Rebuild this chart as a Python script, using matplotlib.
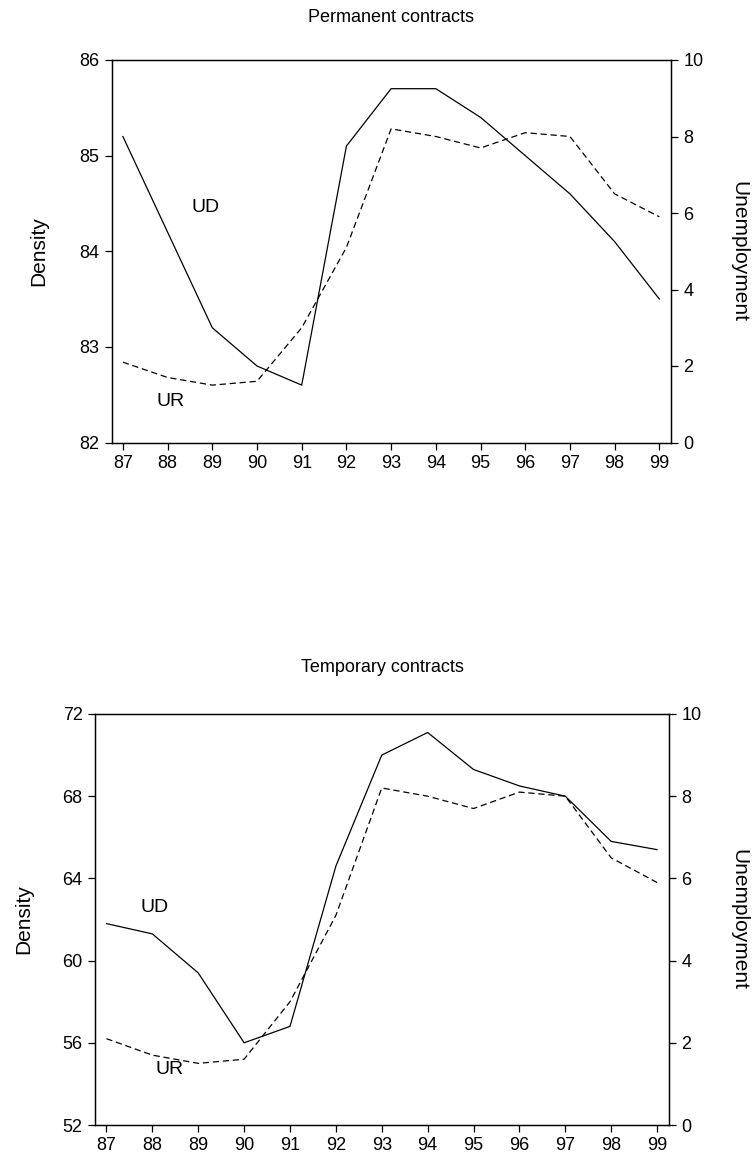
import matplotlib
matplotlib.use("Agg")
import matplotlib.pyplot as plt

plt.rcParams['font.family'] = ['Liberation Sans', 'DejaVu Sans']

years = [87, 88, 89, 90, 91, 92, 93, 94, 95, 96, 97, 98, 99]
year_labels = [str(y) for y in years]

ud_permanent = [85.2, 84.2, 83.2, 82.8, 82.6, 85.1, 85.7, 85.7, 85.4, 85.0, 84.6, 84.1, 83.5]
ud_temporary = [61.8, 61.3, 59.4, 56.0, 56.8, 64.6, 70.0, 71.1, 69.3, 68.5, 68.0, 65.8, 65.4]
unemployment = [2.1, 1.7, 1.5, 1.6, 3.0, 5.1, 8.2, 8.0, 7.7, 8.1, 8.0, 6.5, 5.9]

W, H = 754, 1160
fig = plt.figure(figsize=(W / 100, H / 100), dpi=100)

FS = 13
LFS = 15


def panel(rect, ud, ylim, yticks, title, title_xy, ud_lab, ur_lab, dens_x, unemp_x):
    ax = fig.add_axes(rect)
    ax.plot(years, ud, color='black', lw=0.9)
    ax.set_xlim(86.75, 99.26)
    ax.set_ylim(*ylim)
    ax.set_yticks(yticks)
    ax.set_xticks(years)
    ax.set_xticklabels(year_labels)
    ax.tick_params(axis='both', direction='out', length=5, width=0.9, labelsize=FS, pad=4)
    ax.tick_params(axis='x', top=False)
    for s in ax.spines.values():
        s.set_linewidth(1.0)
        s.set_color('black')
    ax.set_ylabel('Density', fontsize=LFS)
    ax.yaxis.set_label_coords(dens_x, 0.5)
    ax.text(ud_lab[0], ud_lab[1], 'UD', fontsize=14, ha='center', va='center')

    ax2 = ax.twinx()
    ax2.plot(years, unemployment, color='black', lw=0.9, ls=(0, (5, 3)))
    ax2.set_ylim(0, 10)
    ax2.set_yticks([0, 2, 4, 6, 8, 10])
    ax2.tick_params(axis='y', direction='out', length=5, width=0.9, labelsize=FS, pad=4)
    ax2.set_ylabel('Unemployment', fontsize=LFS, rotation=-90)
    ax2.yaxis.set_label_coords(unemp_x, 0.5)
    ax2.text(ur_lab[0], ur_lab[1], 'UR', fontsize=14, ha='center', va='center',
             transform=ax.transData)
    fig.text(title_xy[0] / W, 1 - title_xy[1] / H, title, fontsize=FS,
             ha='center', va='center')
    return ax


panel([111.7 / W, 1 - 442.5 / H, (671 - 111.7) / W, (442.5 - 60) / H],
      ud_permanent, (82, 86), [82, 83, 84, 85, 86],
      'Permanent contracts', (391, 17), (88.85, 84.46), (88.07, 82.43),
      -0.114, 1.139)

panel([95 / W, 1 - 1125 / H, (669 - 95) / W, (1125 - 714) / H],
      ud_temporary, (52, 72), [52, 56, 60, 64, 68, 72],
      'Temporary contracts', (382, 668), (88.05, 62.6), (88.38, 54.68),
      -0.108, 1.139)

fig.savefig('out.png', dpi=100)
